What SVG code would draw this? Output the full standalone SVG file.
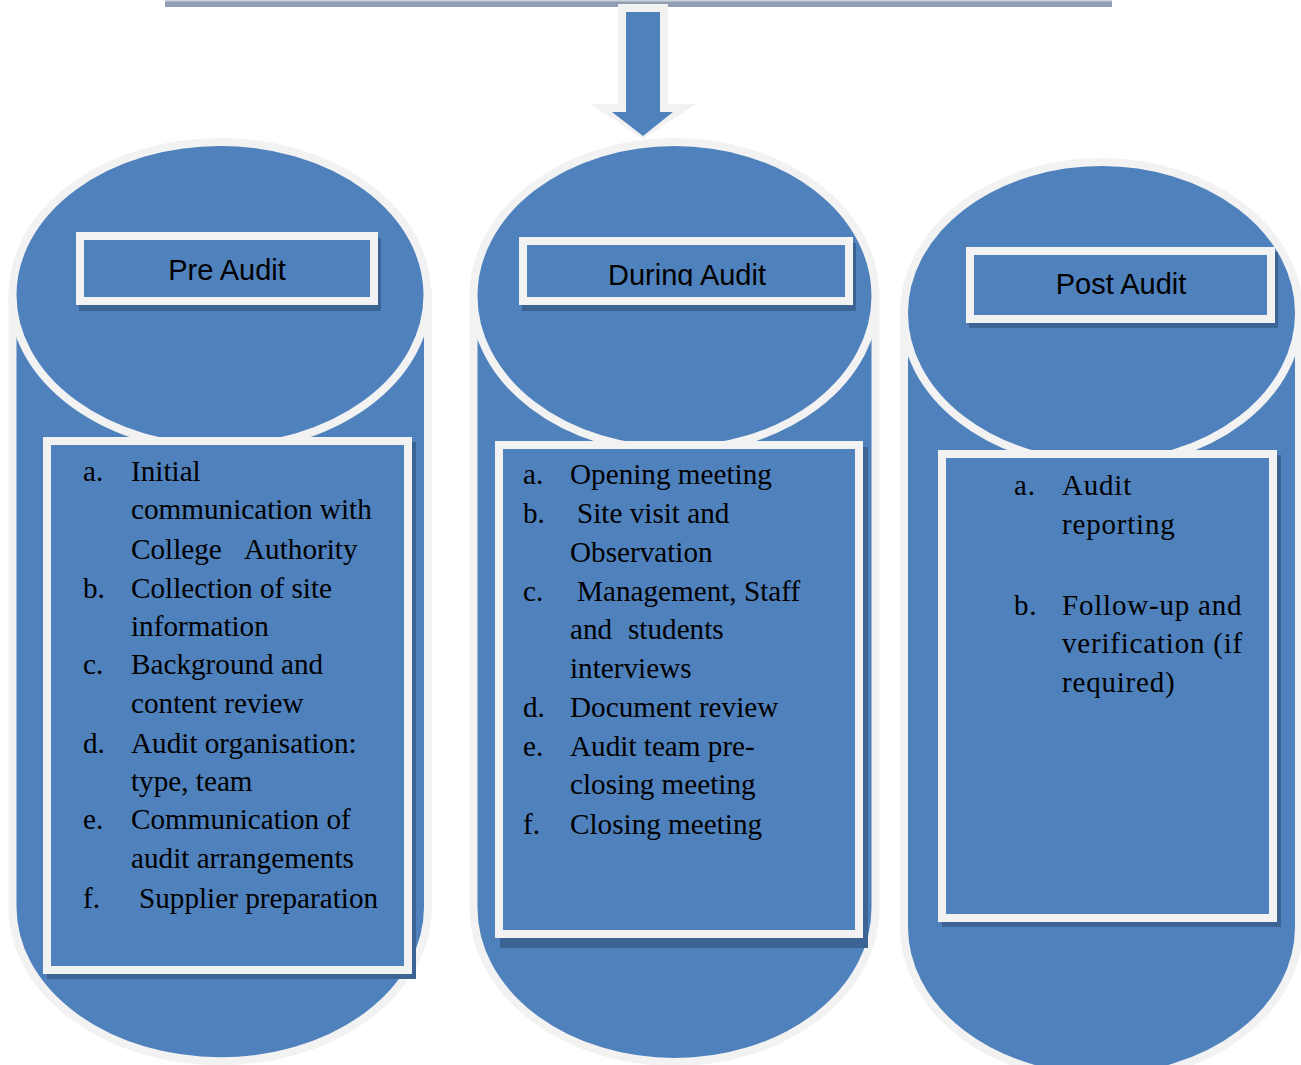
<svg xmlns="http://www.w3.org/2000/svg" width="1301" height="1065" viewBox="0 0 1301 1065">
<defs>
<style>
.can{fill:#4F81BD;stroke:#F2F2F2;stroke-width:8}
.box{fill:#4F81BD;stroke:#F2F2F2;stroke-width:8}
.shd{fill:#3B6394}
.ttl{font-family:"Liberation Sans",Arial,sans-serif;font-size:29px;fill:#000;text-anchor:middle}
.itm{font-family:"Liberation Serif","Times New Roman",serif;font-size:29.2px;fill:#000}
.itm2{font-family:"Liberation Serif","Times New Roman",serif;font-size:29px;letter-spacing:0.8px;fill:#000}
</style>
<clipPath id="clipDuring"><rect x="527" y="245" width="318" height="41"/></clipPath>
</defs>
<rect width="1301" height="1065" fill="#FFFFFF"/>

<g id="top-bar">
<rect x="165" y="0" width="947" height="7" fill="#8F9EB2"/>
<rect x="165" y="0" width="947" height="1.5" fill="#C9D1DC"/>
</g>

<g id="pre-audit">
<path class="can" d="M12.5,295 L12.5,907 A207.5,154 0 0 0 428,907 L428,295 Z"/>
<ellipse class="can" cx="220" cy="295" rx="207.5" ry="153"/>
<rect class="shd" x="79" y="238" width="302" height="73"/>
<rect class="box" x="80" y="236" width="294" height="65"/>
<text class="ttl" x="227" y="280">Pre Audit</text>
<rect class="shd" x="47" y="442" width="369" height="537"/>
<rect class="box" x="47" y="441" width="361" height="529"/>
<g class="itm">
<text x="83" y="481">a.</text><text x="131" y="481">Initial</text>
<text x="131" y="519">communication with</text>
<text x="131" y="559">College</text><text x="244" y="559">Authority</text>
<text x="83" y="598">b.</text><text x="131" y="598">Collection of site</text>
<text x="131" y="636">information</text>
<text x="83" y="674">c.</text><text x="131" y="674">Background and</text>
<text x="131" y="713">content review</text>
<text x="83" y="753">d.</text><text x="131" y="753">Audit organisation:</text>
<text x="131" y="791">type, team</text>
<text x="83" y="829">e.</text><text x="131" y="829">Communication of</text>
<text x="131" y="868">audit arrangements</text>
<text x="83" y="908">f.</text><text x="139" y="908">Supplier preparation</text>
</g>
</g>

<g id="during-audit">
<path class="can" d="M473.5,296 L473.5,908 A201,154 0 0 0 875.5,908 L875.5,296 Z"/>
<ellipse class="can" cx="674.5" cy="296" rx="201" ry="154"/>
<rect class="shd" x="522" y="243" width="334" height="68"/>
<rect class="box" x="523" y="241" width="326" height="60"/>
<text class="ttl" x="687" y="285" clip-path="url(#clipDuring)">During Audit</text>
<rect class="shd" x="500" y="447" width="368" height="501"/>
<rect class="box" x="499" y="445" width="360" height="489"/>
<g class="itm">
<text x="523" y="484">a.</text><text x="570" y="484">Opening meeting</text>
<text x="523" y="523">b.</text><text x="577" y="523">Site visit and</text>
<text x="570" y="562">Observation</text>
<text x="523" y="601">c.</text><text x="577" y="601">Management, Staff</text>
<text x="570" y="639">and</text><text x="628" y="639">students</text>
<text x="570" y="678">interviews</text>
<text x="523" y="717">d.</text><text x="570" y="717">Document review</text>
<text x="523" y="756">e.</text><text x="570" y="756">Audit team pre-</text>
<text x="570" y="794">closing meeting</text>
<text x="523" y="834">f.</text><text x="570" y="834">Closing meeting</text>
</g>
</g>

<g id="post-audit">
<path class="can" d="M904,313 L904,927 A197.5,151 0 0 0 1299,927 L1299,313 Z"/>
<ellipse class="can" cx="1101.5" cy="313" rx="197.5" ry="151"/>
<rect class="shd" x="969" y="252" width="309" height="76"/>
<rect class="box" x="970" y="251" width="301" height="68"/>
<text class="ttl" x="1121" y="294">Post Audit</text>
<rect class="shd" x="942" y="455" width="339" height="472"/>
<rect class="box" x="942" y="454" width="331" height="464"/>
<g class="itm2">
<text x="1014" y="495">a.</text><text x="1062" y="495">Audit</text>
<text x="1062" y="534">reporting</text>
<text x="1014" y="615">b.</text><text x="1062" y="615">Follow-up and</text>
<text x="1062" y="653">verification (if</text>
<text x="1062" y="692">required)</text>
</g>
</g>

<g id="connectors">
<polygon points="618,4 668,4 668,104 696,104 643,139 590,104 618,104" fill="#F2F2F2"/>
<polygon points="626,12 660,12 660,112 673,112 643,136 612,112 626,112" fill="#4F81BD"/>
</g>
</svg>
